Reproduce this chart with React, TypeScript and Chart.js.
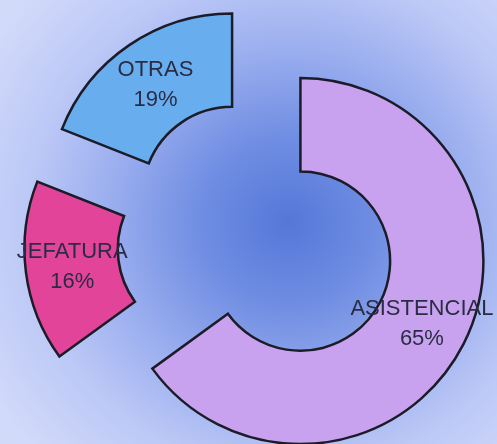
import React, { useEffect, useRef } from "react";
import { Chart, registerables } from "chart.js";

Chart.register(...registerables);

const categories = ["ASISTENCIAL", "JEFATURA", "OTRAS"];
const values = [65, 16, 19];
const percentLabels = ["65%", "16%", "19%"];
const colors = ["#c8a2ee", "#e2449a", "#68aeef"];
const explode = [42, 56, 55];

function halfAngleOf(arc: any) {
  const { startAngle, endAngle } = arc.getProps(["startAngle", "endAngle"], true);
  return (startAngle + endAngle) / 2;
}

const explodePlugin = {
  id: "explodeSlices",
  beforeDatasetDraw(chart: any, args: any) {
    const ctx = chart.ctx;
    const meta = args.meta;
    meta.data.forEach((arc: any, i: number) => {
      const h = halfAngleOf(arc);
      ctx.save();
      ctx.translate(Math.cos(h) * explode[i], Math.sin(h) * explode[i]);
      arc.draw(ctx, chart.chartArea);
      ctx.restore();
    });
    return false;
  },
};

const labelPlugin = {
  id: "sliceLabels",
  afterDatasetsDraw(chart: any) {
    const ctx = chart.ctx;
    const meta = chart.getDatasetMeta(0);
    ctx.save();
    ctx.font = "22px 'Liberation Sans', Arial, sans-serif";
    ctx.fillStyle = "#2a2c44";
    ctx.textAlign = "center";
    ctx.textBaseline = "middle";
    meta.data.forEach((arc: any, i: number) => {
      const { x, y, innerRadius, outerRadius } = arc.getProps(
        ["x", "y", "innerRadius", "outerRadius"],
        true
      );
      const h = halfAngleOf(arc);
      const r = (innerRadius + outerRadius) / 2 + explode[i];
      const cx = x + Math.cos(h) * r;
      const cy = y + Math.sin(h) * r;
      ctx.fillText(categories[i], cx, cy - 14);
      ctx.fillText(percentLabels[i], cx, cy + 16);
    });
    ctx.restore();
  },
};

export default function App() {
  const ref = useRef<HTMLCanvasElement>(null);
  useEffect(() => {
    if (!ref.current) return;
    const chart = new Chart(ref.current, {
      type: "doughnut",
      data: {
        labels: categories,
        datasets: [
          {
            data: values,
            backgroundColor: colors,
            borderColor: "#1c1c28",
            borderWidth: 2.5,
            borderJoinStyle: "miter",
          } as any,
        ],
      },
      options: {
        animation: false,
        responsive: false,
        radius: 183,
        cutout: "49%",
        layout: { padding: { left: 29, right: 0, top: 40, bottom: 0 } },
        plugins: {
          legend: { display: false },
          tooltip: { enabled: false },
        },
      } as any,
      plugins: [explodePlugin, labelPlugin],
    });
    return () => chart.destroy();
  }, []);
  return (
    <div
      style={{
        position: "fixed",
        left: 0,
        top: 0,
        width: 497,
        height: 444,
        background:
          "radial-gradient(ellipse 70% 75% at 58% 50%, #5577d8 0%, #6f8de2 25%, #98acee 50%, #bcc8f6 75%, #d2dafa 100%)",
      }}
    >
      <canvas ref={ref} width={497} height={444} style={{ display: "block" }} />
    </div>
  );
}
